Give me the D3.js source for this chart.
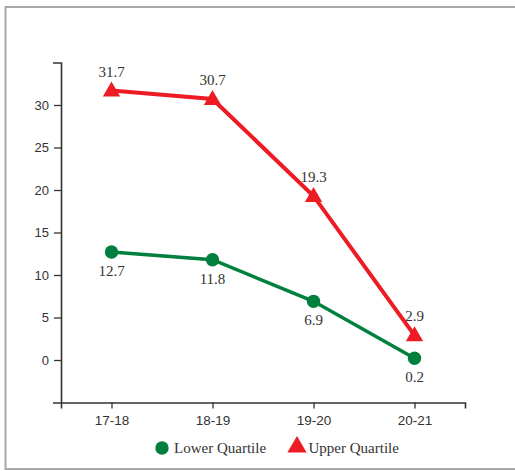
<!DOCTYPE html>
<html><head><meta charset="utf-8">
<script src="https://cdn.jsdelivr.net/npm/d3@7"></script>
<style>
body{margin:0;background:#fff;}
svg{display:block;}
</style></head>
<body>
<svg id="chart" width="515" height="471"></svg>
<script>
const categories = ["17-18", "18-19", "19-20", "20-21"];
const lowerQuartile = [12.7, 11.8, 6.9, 0.2];
const upperQuartile = [31.7, 30.7, 19.3, 2.9];
const yTicks = [0, 5, 10, 15, 20, 25, 30];
const seriesNames = ["Lower Quartile", "Upper Quartile"];

const svg = d3.select("#chart");
const red = "#ED1C24", green = "#00803E";

// frame
svg.append("rect").attr("x", 5.5).attr("y", 7).attr("width", 520).attr("height", 462)
  .attr("fill", "none").attr("stroke", "#a8a8a8").attr("stroke-width", 2);

const x = d3.scalePoint().domain(categories).range([61, 465]).padding(0.5);
const y = d3.scaleLinear().domain([-5, 35]).range([402.5, 62.5]);

const yAxis = d3.axisLeft(y).tickValues(yTicks).tickSize(7).tickSizeOuter(8).tickPadding(5);
const gy = svg.append("g").attr("transform", "translate(61,0)").call(yAxis);
const xAxis = d3.axisBottom(x).tickSize(6).tickSizeOuter(6).tickPadding(7);
const gx = svg.append("g").attr("transform", `translate(0,${y(-5)})`).call(xAxis);

[gx, gy].forEach(g => {
  g.selectAll("path.domain").attr("stroke", "#333").attr("stroke-width", 1.6);
  g.selectAll(".tick line").attr("stroke", "#333").attr("stroke-width", 1.3);
  g.selectAll(".tick text").attr("fill", "#333").style("font-family", "Liberation Sans, Arial, sans-serif").style("font-size", "13px");
});
gx.selectAll(".tick text").style("font-size", "13.5px");

const line = d3.line().x((d, i) => x(categories[i])).y(d => y(d));

svg.append("path").datum(lowerQuartile).attr("d", line)
  .attr("fill", "none").attr("stroke", green).attr("stroke-width", 3.5);
svg.append("path").datum(upperQuartile).attr("d", line)
  .attr("fill", "none").attr("stroke", red).attr("stroke-width", 4);

const circ = d3.symbol().type(d3.symbolCircle).size(Math.PI * 6.7 * 6.7);
const tri = d3.symbol().type(d3.symbolTriangle).size(130);

svg.selectAll(".lm").data(lowerQuartile).join("path")
  .attr("d", circ).attr("fill", green)
  .attr("transform", (d, i) => `translate(${x(categories[i])},${y(d)})`);
svg.selectAll(".um").data(upperQuartile).join("path")
  .attr("d", tri).attr("fill", red)
  .attr("transform", (d, i) => `translate(${x(categories[i])},${y(d) + 1})`);

const labelFont = "Liberation Serif, Times New Roman, serif";
svg.selectAll(".ll").data(lowerQuartile).join("text")
  .attr("x", (d, i) => x(categories[i])).attr("y", d => y(d) + 24)
  .attr("text-anchor", "middle").attr("fill", "#333")
  .style("font-family", labelFont).style("font-size", "15px")
  .text(d => d.toFixed(1));
svg.selectAll(".ul").data(upperQuartile).join("text")
  .attr("x", (d, i) => x(categories[i])).attr("y", d => y(d) - 14)
  .attr("text-anchor", "middle").attr("fill", "#333")
  .style("font-family", labelFont).style("font-size", "15px")
  .text(d => d.toFixed(1));

// legend
const lg = svg.append("g");
lg.append("path").attr("d", circ).attr("fill", green).attr("transform", "translate(162,448)");
lg.append("text").attr("x", 174).attr("y", 453).attr("fill", "#333")
  .style("font-family", labelFont).style("font-size", "15px").text(seriesNames[0]);
lg.append("path").attr("d", d3.symbol().type(d3.symbolTriangle).size(160)).attr("fill", red).attr("transform", "translate(297,447)");
lg.append("text").attr("x", 308.5).attr("y", 453).attr("fill", "#333")
  .style("font-family", labelFont).style("font-size", "15px").text(seriesNames[1]);
</script>
</body></html>
